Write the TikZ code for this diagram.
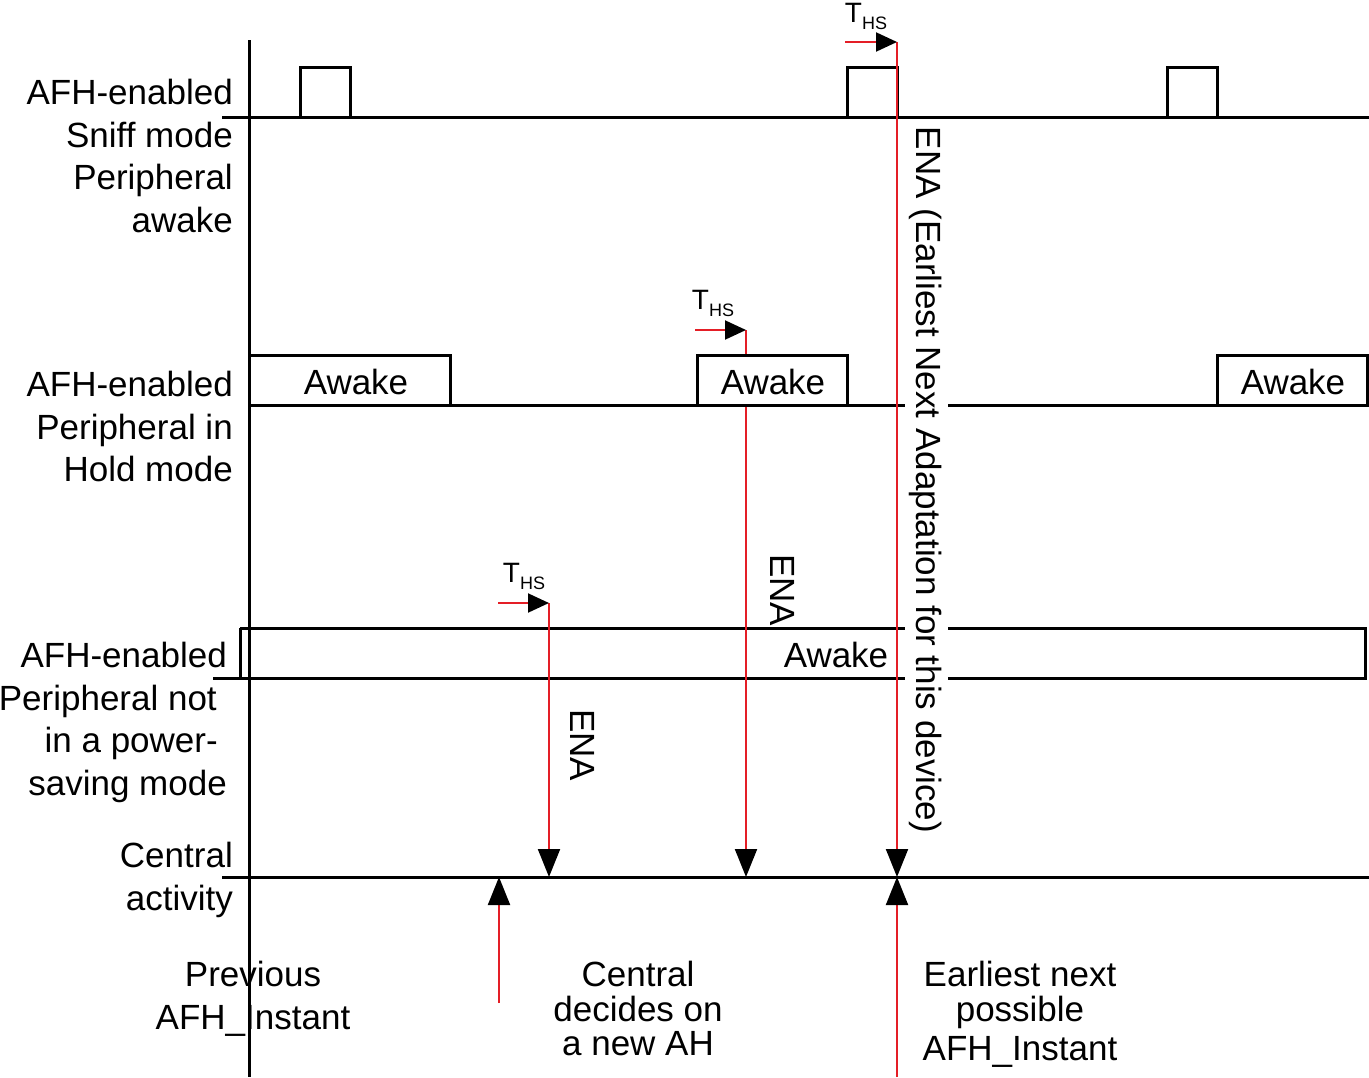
\documentclass[tikz,border=0pt]{standalone}
\usepackage{fontspec}
\setmainfont{Liberation Sans}
\usetikzlibrary{arrows.meta}
\definecolor{enared}{RGB}{228,30,38}
\tikzset{
  tk/.style={line width=3pt},
  rl/.style={enared, line width=2pt},
  big/.style={-{Triangle[length=28pt,width=22pt,color=black]}},
  small/.style={-{Triangle[length=21pt,width=19pt,color=black]}},
  lbl/.style={font=\fontsize{35}{42.5}\selectfont, inner sep=0pt},
}
\newcommand{\ths}{{\fontsize{28}{28}\selectfont T}\raisebox{-7pt}{\fontsize{18}{18}\selectfont HS}}
\begin{document}
\begin{tikzpicture}[x=1pt, y=-1pt, line cap=butt, line join=miter]
\useasboundingbox (0,0) rectangle (1369,1077);

\coordinate (O1) at (249,40);
\coordinate (O2) at (249,1077);

\coordinate (S0) at (222,117);
\coordinate (S9) at (1369,117);

\coordinate (H0) at (249,405);
\coordinate (H1) at (905,405);
\coordinate (H2) at (948,405);
\coordinate (H9) at (1217,405);

\coordinate (P0) at (213,678);
\coordinate (P1) at (240,628);
\coordinate (P2) at (905,628);
\coordinate (P3) at (948,628);
\coordinate (P4) at (1365,628);
\coordinate (P5) at (240,678);
\coordinate (P6) at (905,678);
\coordinate (P7) at (948,678);
\coordinate (P8) at (1365,678);

\coordinate (C0) at (222,877);
\coordinate (C9) at (1369,877);

\coordinate (E1) at (897,42);
\coordinate (E2) at (897,877);
\coordinate (E3) at (897,1077);
\coordinate (F1) at (746,330);
\coordinate (F2) at (746,877);
\coordinate (G1) at (549,603);
\coordinate (G2) at (549,877);
\coordinate (D1) at (499,1003);
\coordinate (D2) at (499,877);

\coordinate (T1) at (845,42);
\coordinate (T2) at (695,330);
\coordinate (T3) at (498,603);

% time lines
\draw[tk] (O1)--(O2);
\draw[tk] (S0)--(S9);
\draw[tk] (H0)--(H1);
\draw[tk] (H2)--(H9);
\draw[tk] (P1)--(P2);
\draw[tk] (P3)--(P4)--(P8)--(P7);
\draw[tk] (P0)--(P6);
\draw[tk] (P1)--(P5);
\draw[tk] (C0)--(C9);

% sniff slots
\draw[tk] (300,117)--(300,67)--(350,67)--(350,117);
\draw[tk] (847,117)--(847,67)--(897,67)--(897,117);
\draw[tk] (1167,117)--(1167,67)--(1217,67)--(1217,117);

% ENA markers
\draw[rl, big] (E1)--(E2);
\draw[rl, big] (E3)--(E2);
\draw[rl, big] (F1)--(F2);
\draw[rl, big] (G1)--(G2);
\draw[rl, big] (D1)--(D2);

\draw[rl, small] (T1)--(E1);
\draw[rl, small] (T2)--(F1);
\draw[rl, small] (T3)--(G1);

% hold slots
\draw[tk] (249,355) rectangle (450,405);
\draw[tk, fill=white] (697,355) rectangle (847,405);
\draw[tk] (1217,355) rectangle (1367,405);

\node[lbl] (a1) at (356,382) {Awake};
\node[lbl] (a2) at (773,382) {Awake};
\node[lbl] (a3) at (1293,382) {Awake};
\node[lbl] (a4) at (836,655) {Awake};

\node[inner sep=0pt] (h1) at (866,16) {\ths};
\node[inner sep=0pt] (h2) at (713,303) {\ths};
\node[inner sep=0pt] (h3) at (524,576) {\ths};

\node[lbl, rotate=-90] (n1) at (926,480) {ENA (Earliest Next Adaptation for this device)};
\node[lbl, rotate=-90] (n2) at (783,590) {ENA};
\node[lbl, rotate=-90] (n3) at (583,745) {ENA};

% row labels
\node[lbl, align=right, anchor=north east] (r1) at (233,79) {AFH-enabled\\Sniff mode\\Peripheral\\awake};
\node[lbl, align=right, anchor=north east] (r2) at (233,371) {AFH-enabled\\Peripheral in\\Hold mode};
\node[lbl, align=right, anchor=north east] (r3) at (227,642) {AFH-enabled\\Peripheral not\kern10pt\\in a power-\kern9pt\\saving mode};
\node[lbl, align=right, anchor=north east] (r4) at (233,842) {Central\\activity};

% bottom labels
\node[lbl, align=center, anchor=north] (b1) at (253,961) {Previous\\AFH\_Instant};
\node[lbl, align=center, anchor=north, font=\fontsize{35}{34.5}\selectfont] (b2) at (638,961) {Central\\decides on\\a new AH};
\node[lbl, align=center, anchor=north, font=\fontsize{35}{35}\selectfont] (b3) at (1020,961) {Earliest next\\possible\\[4pt]AFH\_Instant};
\end{tikzpicture}
\end{document}
